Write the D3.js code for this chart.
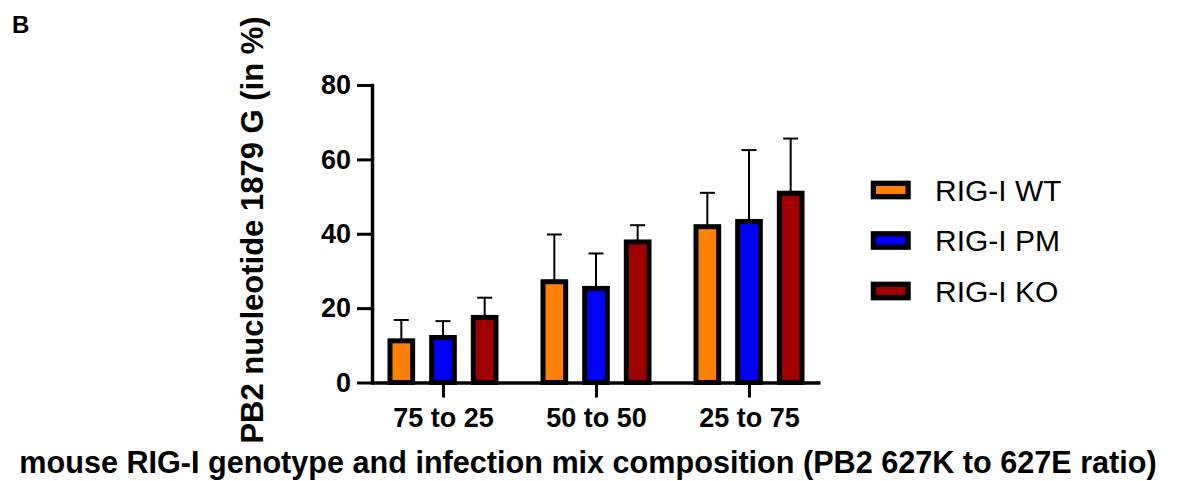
<!DOCTYPE html>
<html>
<head>
<meta charset="utf-8">
<script src="https://cdn.jsdelivr.net/npm/d3@7"></script>
<style>
  html, body { margin: 0; padding: 0; background: #fff; }
  svg { display: block; }
  text { font-family: "Liberation Sans", Arial, sans-serif; fill: #000; }
</style>
</head>
<body>
<script>
// Mix compositions (PB2 627K : 627E) on the x axis
const categories = ["75 to 25", "50 to 50", "25 to 75"];
// Mouse RIG-I genotypes
const series = ["RIG-I WT", "RIG-I PM", "RIG-I KO"];
const seriesColors = ["#FF8000", "#0000FF", "#A00000"];

// Mean % of PB2 nucleotide 1879 G per genotype, one value per composition
const wtMean = [11.2, 27.1, 41.9];
const pmMean = [12.1, 25.3, 43.3];
const koMean = [17.5, 37.8, 50.9];
// Upper error (SD) per bar
const wtErr = [5.6, 12.7, 9.1];
const pmErr = [4.4, 9.4, 19.2];
const koErr = [5.3, 4.5, 14.7];

const yTicks = [0, 20, 40, 60, 80];

const width = 1180, height = 481;

const svg = d3.select("body").append("svg")
  .attr("width", width).attr("height", height);

const means = [wtMean, pmMean, koMean];
const errs = [wtErr, pmErr, koErr];
const rows = [];
series.forEach((s, si) => {
  categories.forEach((c, ci) => {
    rows.push({ series: s, si, category: c, mean: means[si][ci], err: errs[si][ci] });
  });
});

const y = d3.scaleLinear().domain([0, 80]).range([382.5, 85]);
const x = d3.scalePoint().domain(categories).range([372, 820]).padding(0.464);
const xSub = d3.scaleBand().domain(series).range([-62.5, 62.5])
  .paddingInner(0.456).paddingOuter(0.228);

// Error bars (drawn first so the bar outline covers their base)
const eb = svg.append("g").attr("class", "errorbars")
  .attr("stroke", "#000").attr("stroke-width", 2).attr("fill", "none");
rows.forEach(d => {
  const cx = x(d.category) + xSub(d.series) + xSub.bandwidth() / 2;
  eb.append("line").attr("x1", cx).attr("x2", cx)
    .attr("y1", y(d.mean)).attr("y2", y(d.mean + d.err));
  eb.append("line").attr("x1", cx - 7.5).attr("x2", cx + 7.5)
    .attr("y1", y(d.mean + d.err)).attr("y2", y(d.mean + d.err));
});

// Bars
svg.append("g").attr("class", "bars")
  .selectAll("rect").data(rows).join("rect")
  .attr("x", d => x(d.category) + xSub(d.series))
  .attr("width", xSub.bandwidth())
  .attr("y", d => y(d.mean))
  .attr("height", d => y(0) - y(d.mean))
  .attr("fill", d => seriesColors[d.si])
  .attr("stroke", "#000")
  .attr("stroke-width", 5);

// Y axis
const yAxis = svg.append("g").attr("transform", "translate(372,0)")
  .call(d3.axisLeft(y).tickValues(yTicks).tickSize(15).tickSizeOuter(0).tickPadding(6));
yAxis.select(".domain").attr("stroke-width", 3.5).attr("stroke-linecap", "square");
yAxis.selectAll(".tick line").attr("stroke-width", 3);
yAxis.selectAll(".tick text")
  .attr("font-size", 27).attr("font-weight", "bold")
  .attr("font-family", "'Liberation Sans', Arial, sans-serif");

// X axis
const xAxis = svg.append("g").attr("transform", `translate(0,${y(0)})`)
  .call(d3.axisBottom(x).tickSize(15).tickSizeOuter(0).tickPadding(10));
xAxis.select(".domain").attr("stroke-width", 3.5);
xAxis.selectAll(".tick line").attr("stroke-width", 3);
xAxis.selectAll(".tick text")
  .attr("font-size", 27).attr("font-weight", "bold")
  .attr("font-family", "'Liberation Sans', Arial, sans-serif");

// Axis titles
svg.append("text")
  .attr("transform", "translate(263,230) rotate(-90)")
  .attr("text-anchor", "middle")
  .attr("font-size", 31).attr("font-weight", "bold")
  .text("PB2 nucleotide 1879 G (in %)");

svg.append("text")
  .attr("x", 588).attr("y", 473)
  .attr("text-anchor", "middle")
  .attr("font-size", 30.6).attr("font-weight", "bold")
  .text("mouse RIG-I genotype and infection mix composition (PB2 627K to 627E ratio)");

// Panel letter
svg.append("text")
  .attr("x", 12).attr("y", 33)
  .attr("font-family", "Lato, 'Open Sans', sans-serif")
  .attr("font-size", 24).attr("font-weight", "bold")
  .text("B");

// Legend
const legend = svg.append("g").attr("class", "legend");
const legendY = d3.scalePoint().domain(series).range([190, 291]);
series.forEach((s, i) => {
  const cy = legendY(s);
  legend.append("rect")
    .attr("x", 873.4).attr("y", cy - 6.7)
    .attr("width", 34.7).attr("height", 13.4)
    .attr("fill", seriesColors[i])
    .attr("stroke", "#000").attr("stroke-width", 5.3);
  legend.append("text")
    .attr("x", 935).attr("y", cy)
    .attr("dy", "0.36em")
    .attr("font-size", 30)
    .text(s);
});
</script>
</body>
</html>
